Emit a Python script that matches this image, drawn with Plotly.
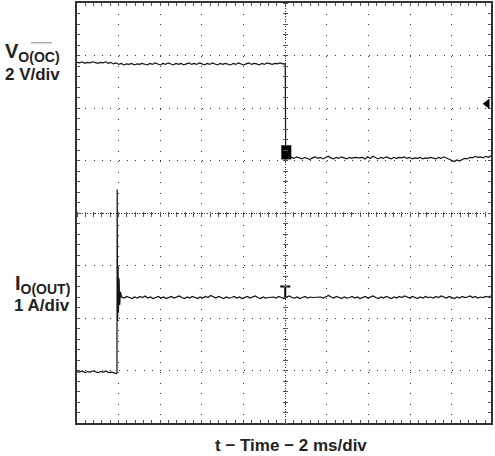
import numpy as np
import plotly.graph_objects as go

# ---------------- data (x in ms, y in screen divisions) ----------------
v_high = [6.87, 6.86, 6.88, 6.85, 6.87, 6.86, 6.88, 6.86, 6.85, 6.87,
          6.86, 6.88, 6.85, 6.87, 6.84, 6.86, 6.83, 6.85, 6.82, 6.84,
          6.83, 6.85, 6.82, 6.84, 6.83, 6.85, 6.84, 6.82, 6.85, 6.83,
          6.86, 6.84, 6.82, 6.85, 6.83, 6.86, 6.84, 6.82, 6.85, 6.83,
          6.85, 6.82, 6.84, 6.86, 6.83, 6.85, 6.83, 6.86, 6.84, 6.82,
          6.85, 6.83, 6.86, 6.84, 6.82, 6.85, 6.83, 6.85, 6.84, 6.82,
          6.85, 6.83, 6.86, 6.84, 6.82, 6.84, 6.86, 6.83, 6.85, 6.84,
          6.82, 6.85, 6.83, 6.86, 6.84, 6.83, 6.85, 6.84, 6.86, 6.84,
          6.84]
v_step_t = [10.02]
v_step_v = [5.10]
v_low = [5.06, 5.04, 5.07, 5.05, 5.03, 5.06, 5.04, 5.02, 5.05, 5.07,
         5.04, 5.06, 5.03, 5.05, 5.08, 5.05, 5.03, 5.06, 5.04, 5.07,
         5.05, 5.03, 5.06, 5.04, 5.06, 5.05, 5.05, 5.06, 5.03, 5.07,
         5.04, 5.08, 5.05, 5.03, 5.06, 5.04, 5.07, 5.05, 5.03, 5.06,
         5.04, 5.06, 5.05, 5.07, 5.04, 5.06, 5.03, 5.05, 5.04, 5.06,
         5.03, 5.05, 5.04, 5.06, 5.05, 5.03, 5.06, 5.04, 5.07, 5.05,
         5.02, 5.00, 4.98, 5.01, 4.99, 5.02, 5.04, 5.03, 5.06, 5.05,
         5.08, 5.06, 5.07, 5.05, 5.08, 5.06, 5.09]

i_low = [0.98, 0.97, 0.99, 0.96, 0.98, 0.97, 0.99, 0.97, 0.96, 0.98,
         0.97, 0.99, 0.96, 0.97, 0.95, 0.94]
i_spike_t = [1.92, 1.93, 1.95, 1.97, 1.99, 2.02, 2.05, 2.09]
i_spike_v = [0.95, 4.45, 1.95, 3.00, 2.10, 2.75, 2.25, 2.50]
i_high = [2.40, 2.38, 2.41, 2.39, 2.37, 2.40, 2.38, 2.41, 2.39, 2.42,
          2.38, 2.40, 2.37, 2.39, 2.41, 2.38, 2.40, 2.37, 2.39, 2.41,
          2.38, 2.40, 2.42, 2.39, 2.37, 2.40, 2.38, 2.41, 2.39, 2.37,
          2.40, 2.38, 2.41, 2.39, 2.43, 2.40, 2.38, 2.41, 2.39, 2.37,
          2.40, 2.38, 2.39, 2.41, 2.38, 2.40, 2.37, 2.39, 2.41, 2.38,
          2.40, 2.42, 2.39, 2.37, 2.40, 2.38, 2.39, 2.39, 2.40, 2.38,
          2.41, 2.39, 2.37, 2.40, 2.42, 2.39, 2.38, 2.40, 2.37, 2.39,
          2.41, 2.38, 2.40, 2.39, 2.39, 2.39, 2.40, 2.38, 2.41, 2.43,
          2.40, 2.38, 2.41, 2.39, 2.37, 2.40, 2.38, 2.39, 2.41, 2.38,
          2.40, 2.37, 2.39, 2.41, 2.38, 2.40, 2.42, 2.39, 2.37, 2.40,
          2.38, 2.41, 2.39, 2.37, 2.40, 2.38, 2.41, 2.39, 2.42, 2.40,
          2.38, 2.41, 2.39, 2.37, 2.40, 2.38, 2.41, 2.39, 2.40, 2.38,
          2.41, 2.39, 2.42, 2.40, 2.38, 2.41, 2.39, 2.37, 2.40, 2.38,
          2.41, 2.39, 2.40, 2.42, 2.39, 2.41, 2.38, 2.40, 2.39, 2.41,
          2.40, 2.42]

# segment time spans (ms)
v_high_span = (0.0, 10.0)
v_low_span = (10.30, 19.88)
i_low_span = (0.0, 1.90)
i_high_span = (2.14, 19.88)

# cursor / marker positions
cur_v_x = [10.05, 10.05]
cur_v_y = [5.02, 5.29]
cur_i_x = [9.76, 10.24, None, 10.0, 10.0]
cur_i_y = [2.60, 2.60, None, 2.60, 2.39]
trig_x = [19.70]
trig_y = [6.08]

x_range = [0, 19.88]
y_range = [0, 8]

# ---------------- build ----------------
t_vh = np.linspace(*v_high_span, len(v_high))
t_vl = np.linspace(*v_low_span, len(v_low))
v_t = list(t_vh) + v_step_t + list(t_vl)
v_v = v_high + v_step_v + v_low

t_il = np.linspace(*i_low_span, len(i_low))
t_ih = np.linspace(*i_high_span, len(i_high))
i_t = list(t_il) + i_spike_t + list(t_ih)
i_v = i_low + i_spike_v + i_high

TRACE = "#111111"
fig = go.Figure()
fig.add_trace(go.Scatter(x=v_t, y=v_v, mode="lines",
                         line=dict(color=TRACE, width=1.2), hoverinfo="skip"))
fig.add_trace(go.Scatter(x=i_t, y=i_v, mode="lines",
                         line=dict(color=TRACE, width=1.2), hoverinfo="skip"))
fig.add_trace(go.Scatter(x=cur_v_x, y=cur_v_y, mode="lines",
                         line=dict(color="#000", width=10), hoverinfo="skip"))
fig.add_trace(go.Scatter(x=cur_i_x, y=cur_i_y, mode="lines",
                         line=dict(color="#000", width=2), hoverinfo="skip"))
fig.add_trace(go.Scatter(x=trig_x, y=trig_y, mode="markers", cliponaxis=False,
                         marker=dict(symbol="triangle-left", size=9, color="#000"),
                         hoverinfo="skip"))
# empty traces to register overlay axes
for xa, ya in [("x2", "y2"), ("x3", "y3")]:
    fig.add_trace(go.Scatter(x=[], y=[], xaxis=xa, yaxis=ya, hoverinfo="skip"))

W, H = 414, 422
GRID = "#333333"
TICK = "#555555"
common = dict(showticklabels=False, zeroline=False, fixedrange=True)

fig.update_layout(
    width=495, height=456,
    margin=dict(l=77, r=4, t=1, b=33, pad=0),
    paper_bgcolor="white", plot_bgcolor="white",
    showlegend=False,
    xaxis=dict(range=x_range, showline=True, linecolor="#333", linewidth=2,
               mirror="ticks", ticks="inside", ticklen=3, tickcolor=TICK,
               tick0=0, dtick=2, showgrid=True, gridcolor=GRID, gridwidth=1,
               griddash="1px,9.55px",
               minor=dict(ticks="inside", ticklen=3, tickcolor=TICK, dtick=0.4,
                          tick0=0, showgrid=False),
               **common),
    yaxis=dict(range=y_range, showline=True, linecolor="#333", linewidth=2,
               mirror="ticks", ticks="inside", ticklen=3, tickcolor=TICK,
               tick0=0, dtick=1, showgrid=True, gridcolor=GRID, gridwidth=1,
               griddash="1px,7.33px",
               minor=dict(ticks="inside", ticklen=3, tickcolor=TICK, dtick=0.2,
                          tick0=0, showgrid=False),
               **common),
    # centre crosshair tick marks
    xaxis2=dict(range=x_range, overlaying="x", anchor="free",
                position=0.5 + 2.5 / H, side="bottom", ticks="outside",
                ticklen=5, tickcolor=TICK, tick0=0, dtick=0.4,
                showgrid=False, showline=False, **common),
    yaxis2=dict(range=y_range, overlaying="y", anchor="free",
                position=0.5 - 2.5 / W, side="right", ticks="outside",
                ticklen=5, tickcolor=TICK, tick0=0, dtick=0.2,
                showgrid=False, showline=False, **common),
    # centre crosshair dense dotted lines
    xaxis3=dict(range=x_range, overlaying="x", anchor="y3", tickmode="array",
                tickvals=[10], ticks="", showgrid=True, gridcolor=GRID,
                griddash="1px,1.6px", showline=False, **common),
    yaxis3=dict(range=y_range, overlaying="y", anchor="x3", tickmode="array",
                tickvals=[4], ticks="", showgrid=True, gridcolor=GRID,
                griddash="1px,1.6px", showline=False, **common),
)

FONT = "Liberation Sans, Arial, Helvetica, sans-serif"


def px_x(px):
    return (px - 77) / W


def px_y(py):
    return (423 - py) / H


ann = [
    ("V<sub>O(OC)</sub>", 3, 51, 20),
    ("2 V/div", 3, 73, 17),
    ("I<sub>O(OUT)</sub>", 13, 284, 20),
    ("1 A/div", 12, 304.5, 17),
]
for text, lx, cy, size in ann:
    fig.add_annotation(text=text, xref="paper", yref="paper", x=px_x(lx),
                       y=px_y(cy), xanchor="left", yanchor="middle",
                       showarrow=False,
                       font=dict(family=FONT, size=size, color="#222", weight="bold"))
fig.add_annotation(text="t − Time − 2 ms/div", xref="paper", yref="paper",
                   x=px_x(291), y=px_y(446), xanchor="center", yanchor="middle",
                   showarrow=False,
                   font=dict(family=FONT, size=17, color="#222", weight="bold"))
# overline over "OC"
fig.add_shape(type="line", xref="paper", yref="paper",
              x0=px_x(31), x1=px_x(52), y0=px_y(41), y1=px_y(41),
              line=dict(color="#888", width=1))

fig.write_html("out.html",
               config={"displayModeBar": False, "staticPlot": True},
               post_script="document.body.style.margin='0';document.body.style.overflow='hidden';")
